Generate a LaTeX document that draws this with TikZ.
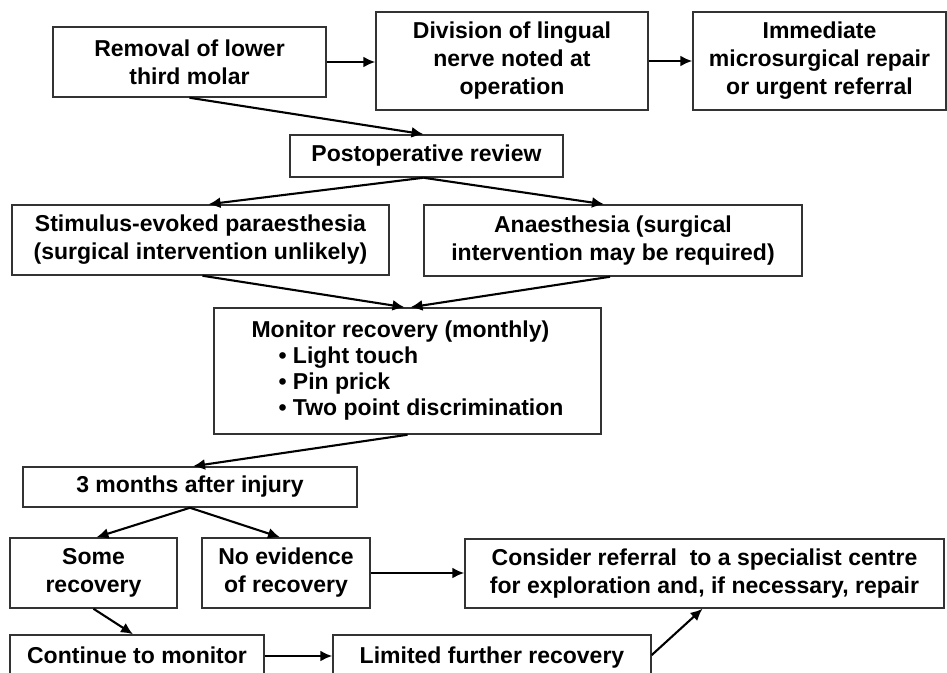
\documentclass[tikz,border=0pt]{standalone}
\usepackage{fontspec}
\setmainfont{Liberation Sans}
\usetikzlibrary{arrows.meta,calc}
\tikzset{
  box/.style={draw=black!80, line width=1.5pt, fill=white, inner sep=0pt, align=center,
    font=\fontsize{23}{28}\selectfont\bfseries},
  conn/.style={draw=black, line width=2.1pt, -{Latex[length=12pt,width=11pt]}}
}
\begin{document}
\begin{tikzpicture}[x=1pt,y=-1pt]
\useasboundingbox (0,0) rectangle (947,672);
\clip (0,0) rectangle (947,672);
\node[box, minimum width=273pt, minimum height=70pt] (removal) at (189.5,62) {Removal of lower\\third molar};
\node[box, minimum width=272pt, minimum height=98pt] (division) at (512,61) {Division of lingual\\nerve noted at\\operation};
\node[box, minimum width=253pt, minimum height=98pt] (immediate) at (819.5,61) {Immediate\\microsurgical repair\\or urgent referral};
\node[box, minimum width=273pt, minimum height=42pt] (post) at (426.5,156) {Postoperative review};
\node[box, minimum width=377pt, minimum height=70pt] (stimulus) at (200.5,240) {Stimulus-evoked paraesthesia\\(surgical intervention unlikely)};
\node[box, minimum width=378pt, minimum height=71pt] (anaes) at (613,240.5) {Anaesthesia (surgical\\intervention may be required)};
\node[box, minimum width=387pt, minimum height=126pt, align=left,
  font=\fontsize{23}{26}\selectfont\bfseries] (monitor) at (407.5,371)
  {Monitor recovery (monthly)\\\hspace*{27pt}• Light touch\\\hspace*{27pt}• Pin prick\\\hspace*{27pt}• Two point discrimination};
\node[box, minimum width=334pt, minimum height=40pt] (three) at (190,487) {3 months after injury};
\node[box, minimum width=167pt, minimum height=70pt] (some) at (93.5,573) {Some\\recovery};
\node[box, minimum width=168pt, minimum height=70pt] (noev) at (286,573) {No evidence\\of recovery};
\node[box, minimum width=479pt, minimum height=69pt] (consider) at (704.5,573.5) {Consider referral\ \ to a specialist centre\\for exploration and, if necessary, repair};
\node[box, minimum width=254pt, minimum height=44pt, text height=17pt, text depth=5pt] (cont) at (137,657) {Continue to monitor};
\node[box, minimum width=318pt, minimum height=44pt, text height=17pt, text depth=5pt] (limited) at (492,657) {Limited further recovery};

\draw[conn] (removal.east) -- (removal.east -| division.west);
\draw[conn] (division.east) -- (immediate.west);
\draw[conn] (removal.south) -- ($(post.north)+(-3,0)$);
\draw[conn] ($(post.south)+(-3,0)$) -- ($(stimulus.north)+(8,0)$);
\draw[conn] ($(post.south)+(-3,0)$) -- ($(anaes.north)+(-9,0)$);
\draw[conn] ($(stimulus.south)+(2,0)$) -- ($(monitor.north)+(-3,0)$);
\draw[conn] ($(anaes.south)+(-3,0)$) -- ($(monitor.north)+(3,0)$);
\draw[conn] (monitor.south) -- ($(three.north)+(3,0)$);
\draw[conn] (three.south) -- ($(some.north)+(3,0)$);
\draw[conn] (three.south) -- ($(noev.north)+(-6,0)$);
\draw[conn] (noev.east) -- (noev.east -| consider.west);
\draw[conn] (some.south) -- ($(cont.north)+(-4,0)$);
\draw[conn] ($(cont.east)+(0,-1)$) -- ($(limited.west)+(0,-1)$);
\draw[conn] ($(limited.east)+(0,-2)$) -- ($(consider.south)+(-2,0)$);
\end{tikzpicture}
\end{document}
